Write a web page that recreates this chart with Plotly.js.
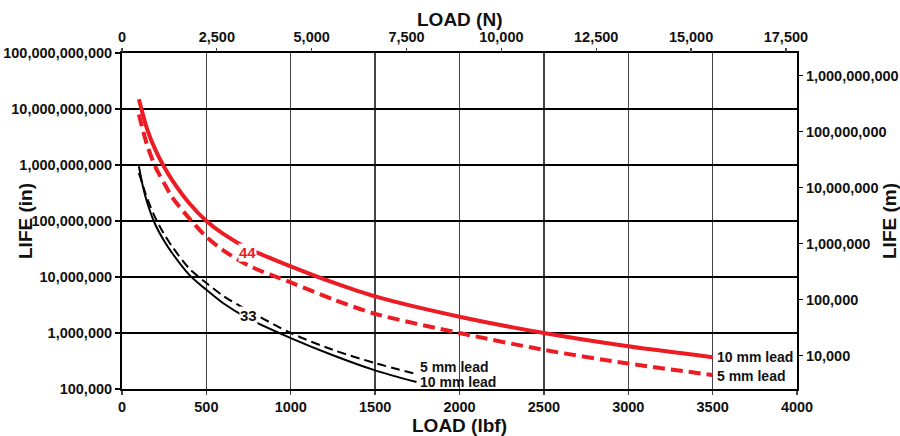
<!DOCTYPE html>
<html>
<head>
<meta charset="utf-8">
<script src="https://cdn.plot.ly/plotly-3.0.1.min.js"></script>
<style>html,body{margin:0;padding:0;background:#fff;}#chart{width:900px;height:436px;}</style>
</head>
<body>
<div id="chart"></div>
<script>
// ---- data (load in lbf, life in inches) ----
var loadRed = [100, 150, 200, 250, 300, 400, 500, 600, 750, 1000, 1250, 1500, 2000, 2500, 3000, 3500];
var red10mm = [1.5e10, 4.3e9, 1.8e9, 9.2e8, 5.2e8, 2.05e8, 1.0e8, 5.9e7, 3.2e7, 1.55e7, 8.0e6, 4.5e6, 1.95e6, 1.0e6, 5.8e5, 3.7e5];
var red5mm  = [8.0e9, 2.2e9, 9.0e8, 4.7e8, 2.6e8, 1.1e8, 5.2e7, 3.0e7, 1.6e7, 8.0e6, 4.0e6, 2.2e6, 1.0e6, 5.0e5, 2.85e5, 1.78e5];

var loadBlack = [100, 125, 150, 200, 250, 300, 400, 500, 600, 750, 1000, 1250, 1500, 1745];
var black10mm = [9.5e8, 4.0e8, 2.1e8, 8.3e7, 4.4e7, 2.6e7, 1.08e7, 5.9e6, 3.4e6, 1.8e6, 8.1e5, 4.0e5, 2.15e5, 1.33e5];
var black5mm  = [7.2e8, 4.2e8, 2.5e8, 1.1e8, 5.8e7, 3.4e7, 1.4e7, 7.8e6, 4.6e6, 2.5e6, 1.0e6, 5.0e5, 2.9e5, 1.85e5];

var bottomTicks = [0, 500, 1000, 1500, 2000, 2500, 3000, 3500, 4000];
var topTicks = [0, 2500, 5000, 7500, 10000, 12500, 15000, 17500];
var LBF_TO_N = 4.44822;
var IN_TO_M = 0.0254;

var FONT = '"Liberation Sans", Arial, sans-serif';
var RED = '#ec1c24';

var traces = [
  {x: loadRed, y: red10mm, mode: 'lines', line: {color: RED, width: 4, shape: 'spline', smoothing: 0.8}, xaxis: 'x', yaxis: 'y', hoverinfo: 'skip'},
  {x: loadRed, y: red5mm, mode: 'lines', line: {color: RED, width: 4, dash: '12px,6px', shape: 'spline', smoothing: 0.8}, xaxis: 'x', yaxis: 'y', hoverinfo: 'skip'},
  {x: loadBlack, y: black10mm, mode: 'lines', line: {color: '#000', width: 2, shape: 'spline', smoothing: 0.8}, xaxis: 'x', yaxis: 'y', hoverinfo: 'skip'},
  {x: loadBlack, y: black5mm, mode: 'lines', line: {color: '#000', width: 2, dash: '9px,5px', shape: 'spline', smoothing: 0.8}, xaxis: 'x', yaxis: 'y', hoverinfo: 'skip'},
  // invisible helper trace to activate the secondary axes
  {x: [0], y: [1e6], mode: 'markers', marker: {opacity: 0}, xaxis: 'x2', yaxis: 'y2', hoverinfo: 'skip'}
];

var tickFont = {family: FONT, size: 14.5, color: '#111', weight: 'bold'};
var titleFont = {family: FONT, size: 19, color: '#111', weight: 'bold'};
var labelFont = {family: FONT, size: 14, color: '#111', weight: 'bold'};

var layout = {
  width: 900, height: 436,
  margin: {l: 122, r: 103, t: 53, b: 47},
  paper_bgcolor: '#fff', plot_bgcolor: '#fff',
  showlegend: false,
  font: {family: FONT},
  xaxis: {
    range: [0, 4000], tickvals: bottomTicks, ticktext: bottomTicks.map(String),
    showgrid: true, gridcolor: '#444', gridwidth: 1.3,
    showline: true, linecolor: '#000', linewidth: 2, mirror: true,
    ticks: 'outside', ticklen: 4, tickcolor: '#444', tickwidth: 1.3,
    tickfont: tickFont, zeroline: false
  },
  xaxis2: {
    overlaying: 'x', side: 'top', anchor: 'y',
    range: [0, 4000 * LBF_TO_N], tickvals: topTicks, ticktext: topTicks.map(function(v){return v.toLocaleString('en-US');}),
    showgrid: false, showline: false, zeroline: false,
    ticks: 'outside', ticklen: 4, tickcolor: '#444', tickwidth: 1.3,
    tickfont: tickFont
  },
  yaxis: {
    type: 'log', range: [5, 11], dtick: 1, tickformat: ',d',
    showgrid: true, gridcolor: '#000', gridwidth: 1.2,
    showline: true, linecolor: '#000', linewidth: 2, mirror: true,
    ticks: 'outside', ticklen: 5, tickcolor: '#000', tickwidth: 1.3,
    tickfont: tickFont, zeroline: false
  },
  yaxis2: {
    type: 'log', overlaying: 'y', side: 'right', anchor: 'x',
    range: [5 + Math.log10(IN_TO_M), 11 + Math.log10(IN_TO_M)], dtick: 1, tickformat: ',d',
    showgrid: false, showline: false, zeroline: false,
    ticks: 'outside', ticklen: 5, tickcolor: '#000', tickwidth: 1.3,
    tickfont: tickFont
  },
  annotations: [
    {text: 'LOAD (N)', xref: 'paper', yref: 'paper', x: 0.5, y: 1, yshift: 34, xanchor: 'center', yanchor: 'middle', showarrow: false, font: titleFont},
    {text: 'LOAD (lbf)', xref: 'paper', yref: 'paper', x: 0.5, y: 0, yshift: -36, xanchor: 'center', yanchor: 'middle', showarrow: false, font: titleFont},
    {text: 'LIFE (in)', xref: 'paper', yref: 'paper', x: 0, xshift: -97, y: 0.5, xanchor: 'center', yanchor: 'middle', textangle: -90, showarrow: false, font: titleFont},
    {text: 'LIFE (m)', xref: 'paper', yref: 'paper', x: 1, xshift: 92, y: 0.5, xanchor: 'center', yanchor: 'middle', textangle: -90, showarrow: false, font: titleFont},
    {text: '44', x: 745, y: Math.log10(2.7e7), xref: 'x', yref: 'y', showarrow: false, bgcolor: '#fff', borderpad: 0, font: {family: FONT, size: 15, color: RED, weight: 'bold'}},
    {text: '33', x: 747, y: Math.log10(2.05e6), xref: 'x', yref: 'y', showarrow: false, bgcolor: '#fff', borderpad: 0, font: {family: FONT, size: 15, color: '#111', weight: 'bold'}},
    {text: '5 mm lead', x: 1752, y: Math.log10(2.5e5), xref: 'x', yref: 'y', xanchor: 'left', showarrow: false, font: labelFont},
    {text: '10 mm lead', x: 1752, y: Math.log10(1.35e5), xref: 'x', yref: 'y', xanchor: 'left', showarrow: false, font: labelFont},
    {text: '10 mm lead', x: 3512, y: Math.log10(3.8e5), xref: 'x', yref: 'y', xanchor: 'left', showarrow: false, font: labelFont},
    {text: '5 mm lead', x: 3512, y: Math.log10(1.73e5), xref: 'x', yref: 'y', xanchor: 'left', showarrow: false, font: labelFont}
  ]
};

Plotly.newPlot('chart', traces, layout, {staticPlot: true, displayModeBar: false});
</script>
</body>
</html>
